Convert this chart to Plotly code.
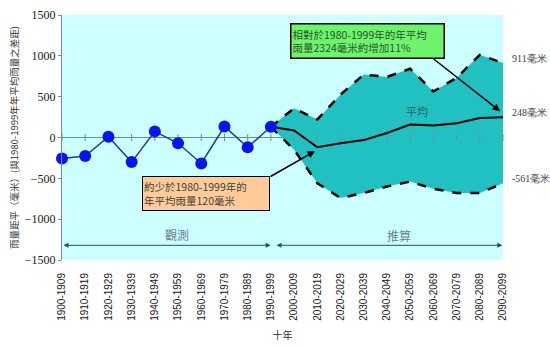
import plotly.graph_objects as go

decades = ["1900-1909", "1910-1919", "1920-1929", "1930-1939", "1940-1949",
           "1950-1959", "1960-1969", "1970-1979", "1980-1989", "1990-1999",
           "2000-2009", "2010-2019", "2020-2029", "2030-2039", "2040-2049",
           "2050-2059", "2060-2069", "2070-2079", "2080-2089", "2090-2099"]

observed = [-258, -226, 10, -301, 75, -71, -318, 135, -119, 131]

# projection decades start at 1990-1999 (index 9)
proj_mean = [131, 87, -120, -71, -32, 55, 158, 146, 175, 238, 248]
proj_upper = [131, 357, 220, 525, 770, 742, 842, 563, 730, 1012, 911]
proj_lower = [131, -150, -560, -740, -680, -600, -540, -627, -679, -679, -561]

y_ticks = [-1500, -1000, -500, 0, 500, 1000, 1500]

idx = list(range(len(decades)))
obs_x = idx[:len(observed)]
proj_x = idx[len(observed) - 1:]

TEAL = "#22C1C1"
BG = "#CCFFFF"
AX = "#6F8F8F"
CJK = "Noto Sans CJK TC"
SERIF = "Liberation Serif"

fig = go.Figure()

# shaded range
fig.add_trace(go.Scatter(
    x=proj_x + proj_x[::-1], y=proj_upper + proj_lower[::-1],
    fill="toself", fillcolor=TEAL, line=dict(width=0), mode="lines",
    hoverinfo="skip", showlegend=False))

# zero-line category ticks
fig.add_trace(go.Scatter(
    x=idx, y=[0] * len(idx), mode="markers",
    marker=dict(symbol="line-ns", size=5, line=dict(color=AX, width=1)),
    hoverinfo="skip", showlegend=False, cliponaxis=False))

# bounds
for series in (proj_upper, proj_lower):
    fig.add_trace(go.Scatter(
        x=proj_x, y=series, mode="lines",
        line=dict(color="black", width=2.5, dash="dash"),
        showlegend=False, cliponaxis=False))

# mean
fig.add_trace(go.Scatter(
    x=proj_x, y=proj_mean, mode="lines",
    line=dict(color="black", width=2), showlegend=False, cliponaxis=False))

# observed
fig.add_trace(go.Scatter(
    x=obs_x, y=observed, mode="lines+markers",
    line=dict(color="#1F3A8F", width=1.5),
    marker=dict(color="#0A14F0", size=12),
    showlegend=False, cliponaxis=False))

ann = []
# green box
ann.append(dict(x=13.15, y=1179, xref="x", yref="y",
                text="相對於1980-1999年的年平均<br>雨量2324毫米約增加11%",
                showarrow=False, font=dict(family=CJK, size=10.5, color="#2F4F2F"),
                bgcolor="#6CF56C", bordercolor="black", borderwidth=1.5,
                borderpad=1, align="left", width=150, height=31))
ann.append(dict(x=18.88, y=321, ax=15.95, ay=976, xref="x", yref="y",
                axref="x", ayref="y", text="", showarrow=True,
                arrowhead=2, arrowsize=1, arrowwidth=1.5, arrowcolor="black"))
# orange box
ann.append(dict(x=6.19, y=-687, xref="x", yref="y",
                text="約少於1980-1999年的<br>年平均雨量120毫米",
                showarrow=False, font=dict(family=CJK, size=10.5, color="#404040"),
                bgcolor="#FFCC99", bordercolor="black", borderwidth=1,
                borderpad=1, align="left", width=124, height=31))
ann.append(dict(x=10.9, y=-167, ax=8.92, ay=-488, xref="x", yref="y",
                axref="x", ayref="y", text="", showarrow=True,
                arrowhead=2, arrowsize=1, arrowwidth=1.5, arrowcolor="black"))
# double arrows
ann.append(dict(x=8.99, y=-1320, ax=0.0, ay=-1320, xref="x", yref="y",
                axref="x", ayref="y", text="", showarrow=True,
                arrowhead=2, startarrowhead=2, arrowside="end+start",
                arrowsize=1, arrowwidth=1, arrowcolor="#2F4F4F"))
ann.append(dict(x=18.97, y=-1320, ax=9.18, ay=-1320, xref="x", yref="y",
                axref="x", ayref="y", text="", showarrow=True,
                arrowhead=2, startarrowhead=2, arrowside="end+start",
                arrowsize=1, arrowwidth=1, arrowcolor="#2F4F4F"))
# labels
ann.append(dict(x=4.94, y=-1182, xref="x", yref="y", text="觀測", showarrow=False,
                font=dict(family=CJK, size=12, color="#6A7F95")))
ann.append(dict(x=14.5, y=-1202, xref="x", yref="y", text="推算", showarrow=False,
                font=dict(family=CJK, size=12, color="#6A7F95")))
ann.append(dict(x=15.28, y=325, xref="x", yref="y", text="平均", showarrow=False,
                font=dict(family=CJK, size=11, color="#2F5F5F")))
# right-side values
for val in (proj_upper[-1], proj_mean[-1], proj_lower[-1]):
    ann.append(dict(x=19, y=val, xref="x", yref="y", text=f"{val}毫米",
                    showarrow=False, xanchor="left", xshift=7, yshift=5,
                    font=dict(family=SERIF, size=10, color="#404040")))

fig.update_layout(
    width=550, height=348,
    margin=dict(l=62, r=47, t=8, b=88),
    paper_bgcolor="white", plot_bgcolor=BG,
    annotations=ann, showlegend=False,
    xaxis=dict(range=[0, 19], tickvals=idx, ticktext=decades, tickangle=-90,
               showgrid=False, zeroline=False, showline=False,
               ticks="outside", ticklen=8, tickcolor="rgba(0,0,0,0)",
               tickfont=dict(family="Liberation Sans", size=10, color="#202020"),
               title=dict(text="十年", font=dict(family=CJK, size=10, color="#303030"),
                          standoff=12)),
    yaxis=dict(range=[-1500, 1500], tickvals=y_ticks, showgrid=False,
               zeroline=True, zerolinecolor=AX, zerolinewidth=1,
               showline=True, linecolor=AX, linewidth=1,
               ticks="outside", ticklen=3, tickcolor=AX,
               tickfont=dict(family=SERIF, size=12, color="#202020"),
               title=dict(text="雨量距平（毫米）(與1980-1999年年平均雨量之差距)",
                          font=dict(family=CJK, size=9.5, color="#303030"),
                          standoff=4)),
)

fig.write_html("out.html")
